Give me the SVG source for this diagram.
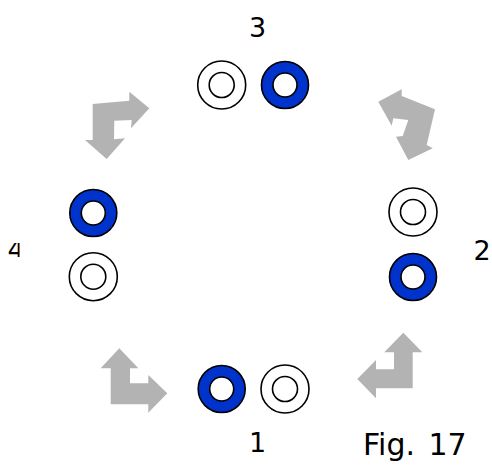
<svg xmlns="http://www.w3.org/2000/svg" width="492" height="467" viewBox="0 0 492 467">
<style>
.ring{stroke:#000;stroke-width:1.6}
.w{fill:#fff}
.b{fill:#0033cc}
.arrow{fill:#b3b3b3;stroke:none}
.lbl{font-family:"DejaVu Sans",Verdana,sans-serif;font-size:27px;fill:#000;text-anchor:middle}
.fig{font-family:"DejaVu Sans",Verdana,sans-serif;font-size:30px;fill:#000;word-spacing:4px}
</style>
<defs>
<clipPath id="clip4"><rect x="8" y="243" width="11.5" height="14"/></clipPath>
</defs>
<rect width="492" height="467" fill="#fff"/>
<g id="connectors">
<polygon id="arrow-top-left" class="arrow" points="92.7,104 129.3,100.7 129.3,91.7 149.3,108.3 131,128.3 131.7,120 114.3,120.7 114,139.3 125,138.3 106.7,159 85,140 92.7,140"/>
<polygon id="arrow-top-right" class="arrow" points="378.3,101.7 401.7,89.3 401.7,96 435,109.3 426.7,145 432.7,148.3 408.3,160 396,136.7 402.7,136 408.3,120 393.3,118.3 391.7,125.7"/>
<polygon id="arrow-bottom-right" class="arrow" points="403.3,332.7 422.3,352.3 412.7,352.3 412.7,388.3 376,388.3 376,398.3 357.3,379 376,360 376,369.3 394,369.3 394,352.3 384.3,352.3"/>
<polygon id="arrow-bottom-left" class="arrow" points="119.3,348.3 138.3,368.3 130,368.3 130,383.3 148.3,383.3 148.3,375 167.3,393.3 148.3,412.7 148.3,404.3 110.7,404.3 110.7,368.3 100.7,368.3"/>
</g>
<g id="node-3">
<circle class="ring w" cx="221.7" cy="85" r="24"/>
<circle class="ring w" cx="221.7" cy="85" r="12.5"/>
<circle class="ring b" cx="285" cy="85" r="23.5"/>
<circle class="ring w" cx="285" cy="85" r="12"/>
<text class="lbl" x="257.5" y="37">3</text>
</g>
<g id="node-2">
<circle class="ring w" cx="413" cy="212" r="24"/>
<circle class="ring w" cx="413" cy="212" r="12.5"/>
<circle class="ring b" cx="413" cy="277" r="23.5"/>
<circle class="ring w" cx="413" cy="277" r="12"/>
<text class="lbl" x="482" y="260">2</text>
</g>
<g id="node-4">
<circle class="ring b" cx="93.3" cy="213" r="23.5"/>
<circle class="ring w" cx="93.3" cy="213" r="12"/>
<circle class="ring w" cx="93.3" cy="276.7" r="24"/>
<circle class="ring w" cx="93.3" cy="276.7" r="12.5"/>
<text class="lbl" x="16" y="259" clip-path="url(#clip4)">4</text>
</g>
<g id="node-1">
<circle class="ring b" cx="221.7" cy="389" r="23.5"/>
<circle class="ring w" cx="221.7" cy="389" r="12"/>
<circle class="ring w" cx="285" cy="389" r="24"/>
<circle class="ring w" cx="285" cy="389" r="12.5"/>
<text class="lbl" x="257.5" y="452">1</text>
</g>
<text id="caption" class="fig" x="363" y="455">Fig. 17</text>
</svg>
